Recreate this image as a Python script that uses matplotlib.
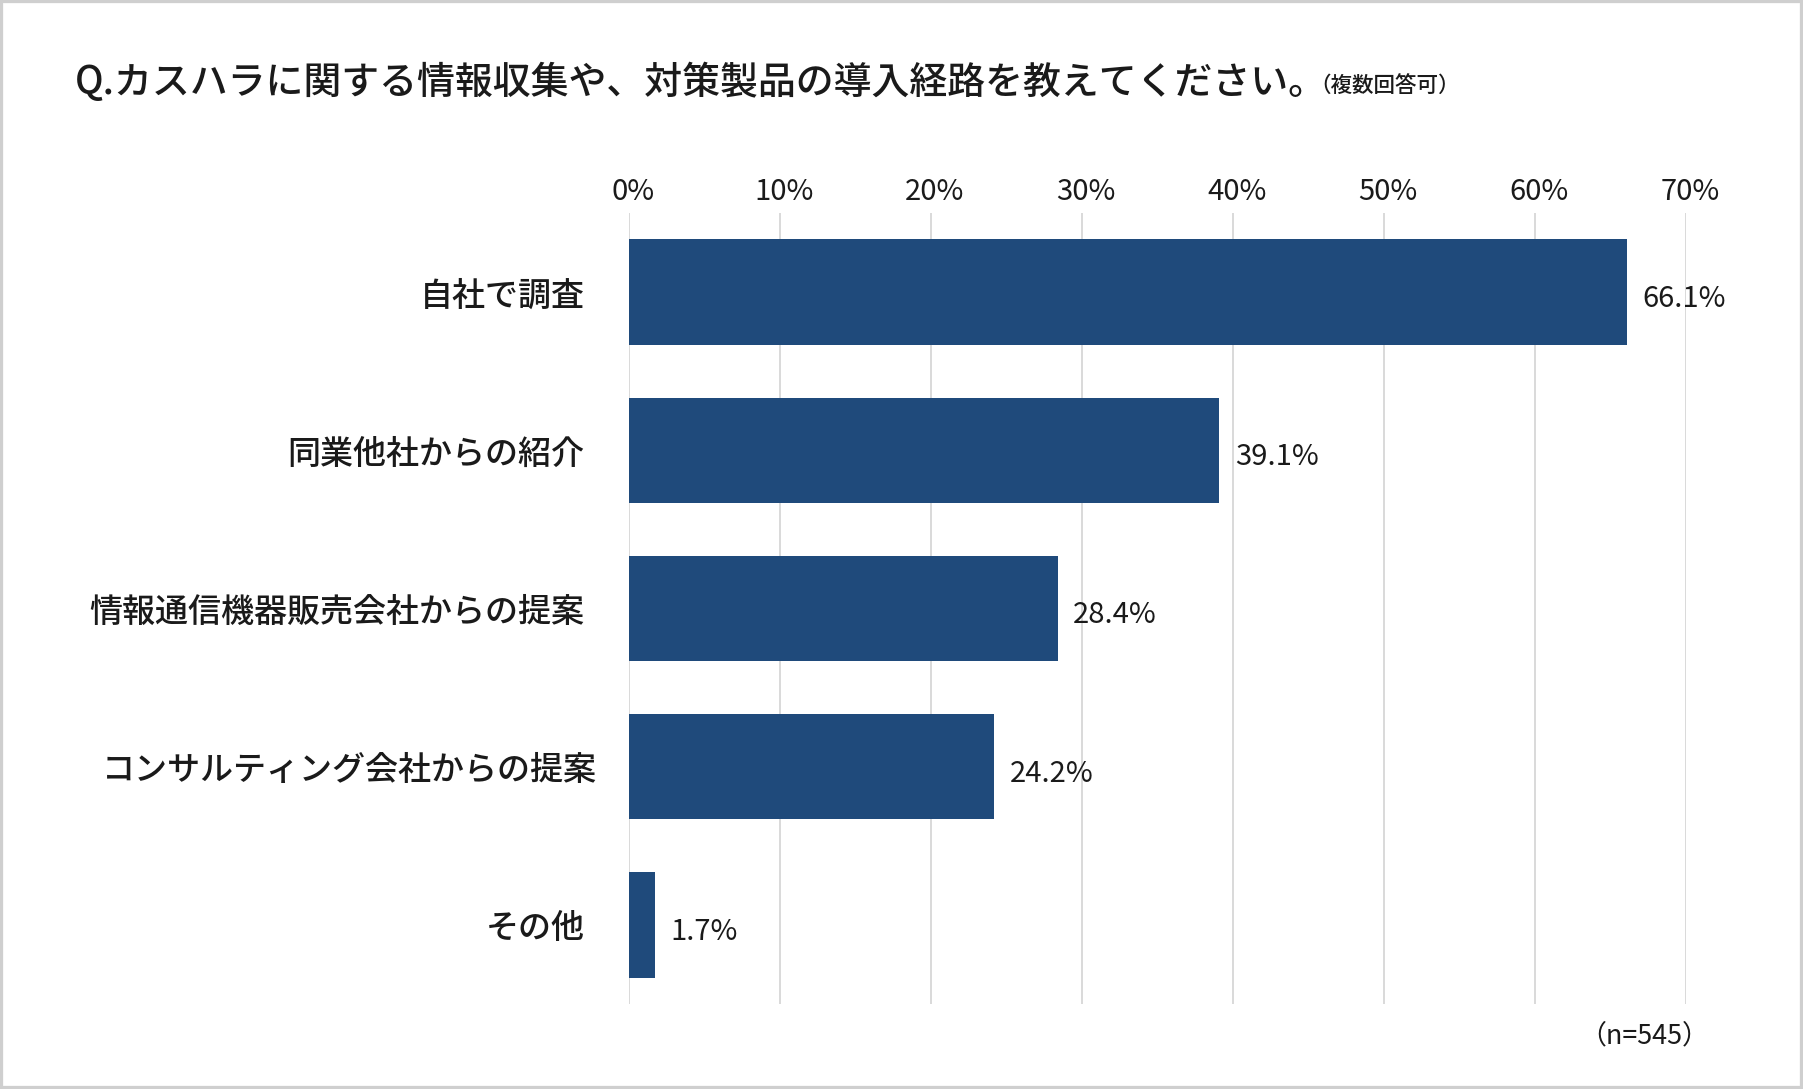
import matplotlib
matplotlib.use("Agg")
import matplotlib.pyplot as plt
from matplotlib.patches import Rectangle
from matplotlib.transforms import ScaledTranslation

plt.rcParams['font.family'] = ['Noto Sans CJK JP', 'DejaVu Sans']

# data
categories = ['自社で調査', '同業他社からの紹介', '情報通信機器販売会社からの提案',
              'コンサルティング会社からの提案', 'その他']
values = [66.1, 39.1, 28.4, 24.2, 1.7]
xticks = [0, 10, 20, 30, 40, 50, 60, 70]
title = 'Q.カスハラに関する情報収集や、対策製品の導入経路を教えてください。'
subtitle = '（複数回答可）'
note = '（n=545）'

W, H = 1803, 1089
fig = plt.figure(figsize=(W / 100, H / 100), dpi=100)
fig.patch.set_facecolor('white')

# axes placed in pixel terms
left, right, top, bottom = 629, 1686, 213, 1004
ax = fig.add_axes([left / W, 1 - bottom / H, (right - left) / W, (bottom - top) / H])

bar_color = '#1f4a7b'
pos = list(range(len(categories)))
ax.barh(pos, values, height=0.665, color=bar_color, zorder=3)
for p, v in zip(pos, values):
    ax.annotate(f'{v:.1f}%', (v, p), xytext=(11, -5), textcoords='offset points',
                va='center', ha='left', fontsize=21, color='#1a1a1a')

ax.set_xlim(0, 70)
ax.set_ylim(len(categories) - 0.5, -0.5)
ax.set_xticks(xticks)
ax.set_xticklabels([f'{t}%' for t in xticks], fontsize=21, color='#1a1a1a')
ax.xaxis.tick_top()
ax.tick_params(axis='x', length=0, pad=4)
shift = ScaledTranslation(4 / 100, 0, fig.dpi_scale_trans)
for lab in ax.get_xticklabels():
    lab.set_transform(lab.get_transform() + shift)
ax.set_yticks(pos)
ax.set_yticklabels(categories, fontsize=23.8, color='#1a1a1a', fontweight='medium')
ax.tick_params(axis='y', length=0, pad=32)
# the consulting label sits a little further right in the original
ylabs = ax.get_yticklabels()
ylabs[3].set_transform(ylabs[3].get_transform() + ScaledTranslation(12 / 100, 0, fig.dpi_scale_trans))

ax.grid(axis='x', color='#d9d9d9', linewidth=1.4, zorder=0)
ax.grid(axis='y', visible=False)
for s in ax.spines.values():
    s.set_visible(False)

# title and sub-note
t = fig.text(75 / W, 1 - 83 / H, title, fontsize=27.3, va='center', ha='left',
             color='#1a1a1a', fontweight='medium')
fig.canvas.draw()
bb = t.get_window_extent()
fig.text((bb.x1 - 18) / W, bb.y0 / H + 0.005, subtitle, fontsize=15.5, va='bottom', ha='left',
         color='#1a1a1a', fontweight='medium')

fig.text(1709 / W, 1 - 1036 / H, note, fontsize=19.4, va='center', ha='right', color='#1a1a1a')

# light grey frame round the picture
fig.patches.append(Rectangle((0, 0), 1, 1, transform=fig.transFigure, fill=False,
                             edgecolor='#cfcfcf', linewidth=4.5))

fig.savefig('out.png', dpi=100)
